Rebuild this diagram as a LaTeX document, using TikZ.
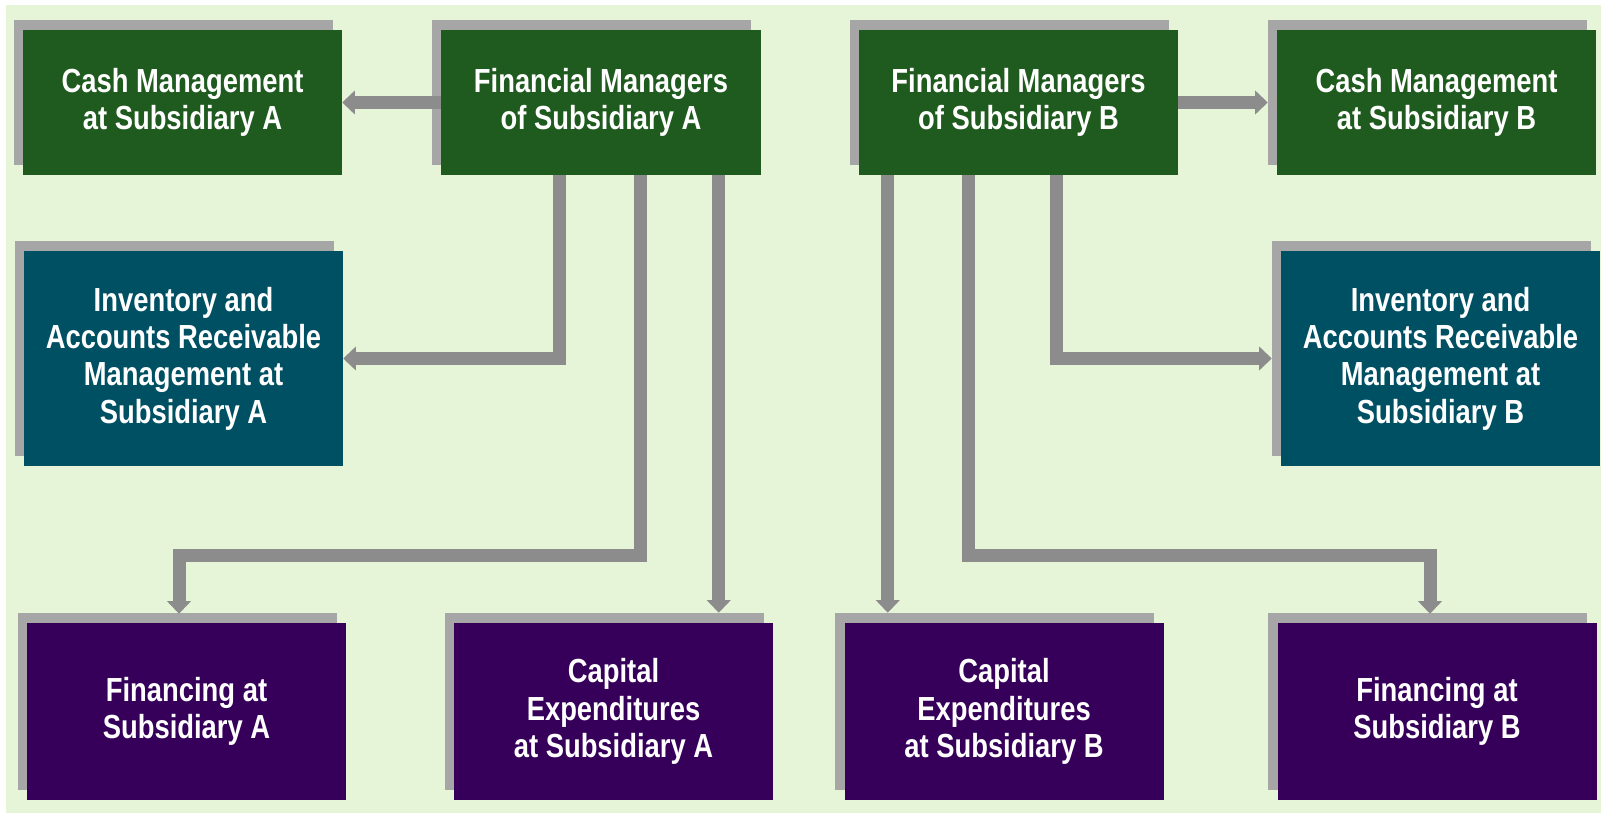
\documentclass[tikz,border=0pt]{standalone}
\usepackage{fontspec}
\setmainfont{Liberation Sans}[FakeStretch=0.82]
\usetikzlibrary{arrows.meta,calc,shadows}

\definecolor{bgcolor}{HTML}{E6F4D7}
\definecolor{mgrgreen}{HTML}{1F5A1E}
\definecolor{invteal}{HTML}{005064}
\definecolor{fundpurple}{HTML}{36005A}
\definecolor{shadowgray}{HTML}{A6A6A6}
\definecolor{linkgray}{HTML}{8C8C8C}

\tikzset{
	unitbox/.style={minimum width=9.57cm, inner sep=0pt, align=center,
		text=white, font=\bfseries\fontsize{28.5}{31.8}\selectfont,
		general shadow={fill=shadowgray, shadow xshift=-0.28cm, shadow yshift=0.3cm}},
	topbox/.style={unitbox, fill=mgrgreen, minimum height=4.35cm},
	midbox/.style={unitbox, fill=invteal, minimum height=6.45cm},
	lowbox/.style={unitbox, fill=fundpurple, minimum height=5.31cm},
	link/.style={draw=linkgray, line width=0.39cm,
		-{Triangle[width=0.7cm,length=0.38cm]}},
}

\begin{document}
\begin{tikzpicture}[x=0.03cm, y=-0.03cm]

	\useasboundingbox (0,0) rectangle (1605,818);
	\fill[bgcolor] (6,5) rectangle (1601,813);

	% top row
	\node[topbox] (cashA) at (182.5,102.5) {Cash Management\\at Subsidiary A};
	\node[topbox] (finA) at (601,102.5) {Financial Managers\\of Subsidiary A};
	\node[topbox] (finB) at (1018.5,102.5) {Financial Managers\\of Subsidiary B};
	\node[topbox] (cashB) at (1436.5,102.5) {Cash Management\\at Subsidiary B};

	% middle row
	\node[midbox] (invA) at (183.5,358.5) {Inventory and\\Accounts Receivable\\Management at\\Subsidiary A};
	\node[midbox] (invB) at (1440.5,358.5) {Inventory and\\Accounts Receivable\\Management at\\Subsidiary B};

	% bottom row
	\node[lowbox] (fundA) at (186.5,711.5) {Financing at\\Subsidiary A};
	\node[lowbox] (capA) at (613.5,711.5) {Capital\\Expenditures\\at Subsidiary A};
	\node[lowbox] (capB) at (1004,711.5) {Capital\\Expenditures\\at Subsidiary B};
	\node[lowbox] (fundB) at (1437,711.5) {Financing at\\Subsidiary B};

	\coordinate (turnA) at (640,555);
	\coordinate (turnB) at (968,555);

	% subsidiary A
	\draw[link] (finA.west) -- (cashA.east);
	\draw[link] ($(finA.south west)+(118,0)$) |- (invA.east);
	\draw[link] (finA.south -| turnA) -- (turnA) -| ($(fundA.north)+(-7.5,-9)$);
	\draw[link] ($(finA.south east)+(-42,0)$) -- ($(finA.south east |- capA.north)+(-42,-10)$);

	% subsidiary B
	\draw[link] (finB.east) -- ($(cashB.west)+(-9,0)$);
	\draw[link] ($(finB.south west)+(29,0)$) -- ($(finB.south west |- capB.north)+(29,-10)$);
	\draw[link] (finB.south -| turnB) -- (turnB) -| ($(fundB.north)+(-7,-9)$);
	\draw[link] ($(finB.south east)+(-122,0)$) |- ($(invB.west)+(-9,0)$);

\end{tikzpicture}
\end{document}
